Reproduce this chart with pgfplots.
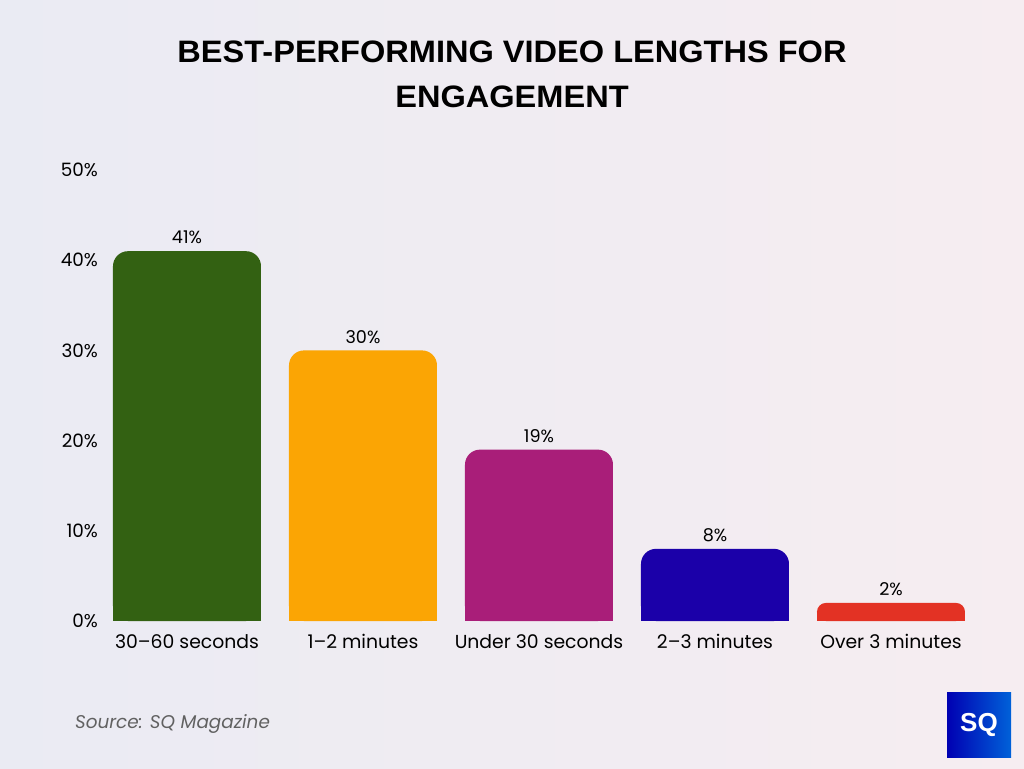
\documentclass[border=0pt]{standalone}
\usepackage{pgfplots}
\pgfplotsset{compat=1.18}
\usepackage{fontspec}
\setmainfont{Poppins}
\newfontfamily\titlefont{Liberation Sans}

\definecolor{cgreen}{HTML}{336112}
\definecolor{corange}{HTML}{FBA504}
\definecolor{cmag}{HTML}{A91E79}
\definecolor{cblue}{HTML}{1B00A9}
\definecolor{cred}{HTML}{E33224}
\definecolor{bgleft}{HTML}{EAEBF3}
\definecolor{bgright}{HTML}{F6EDF1}

\begin{document}
\begin{tikzpicture}
% background (512pt x 384pt = 1024 x 768 px)
\shade[left color=bgleft, right color=bgright] (0,0) rectangle (512pt,384pt);

\node[font=\titlefont\bfseries\fontsize{15.5}{22.5}\selectfont, align=center]
  at (256pt,346.75pt) {\scalebox{1.05}[1]{BEST-PERFORMING VIDEO LENGTHS FOR}\\\scalebox{1.05}[1]{ENGAGEMENT}};

\begin{axis}[
  at={(49.5pt,73.5pt)}, anchor=south west,
  scale only axis, width=440pt, height=225.5pt,
  xmin=-0.5, xmax=4.5, ymin=0, ymax=50,
  ybar, bar width=74pt, bar shift=0pt,
  axis line style={draw=none}, tick style={draw=none},
  ytick={0,10,...,50},
  yticklabel={\pgfmathprintnumber{\tick}\%},
  yticklabel style={xshift=3pt, font=\fontsize{9.2}{10}\selectfont},
  xtick={0,1,2,3,4},
  xticklabels={30--60 seconds, 1--2 minutes, Under 30 seconds, 2--3 minutes, Over 3 minutes},
  xticklabel style={yshift=1pt, font=\fontsize{9.4}{10}\selectfont},
  ticklabel style={text=black},
  /pgf/number format/assume math mode=true,
  nodes near coords={\pgfmathprintnumber{\pgfplotspointmeta}\%},
  every node near coord/.append style={font=\fontsize{8.8}{10}\selectfont, text=black},
  clip=false,
]
\addplot[fill=cgreen, draw=none, rounded corners=7.5pt] coordinates {(0,41)};
\addplot[fill=corange, draw=none, rounded corners=7.5pt] coordinates {(1,30)};
\addplot[fill=cmag, draw=none, rounded corners=7.5pt] coordinates {(2,19)};
\addplot[fill=cblue, draw=none, rounded corners=7.5pt] coordinates {(3,8)};
\addplot[fill=cred, draw=none, rounded corners=4.4pt] coordinates {(4,2)};
% square off the bottom corners
\addplot[fill=cgreen, draw=none, nodes near coords=] coordinates {(0,20)};
\addplot[fill=corange, draw=none, nodes near coords=] coordinates {(1,15)};
\addplot[fill=cmag, draw=none, nodes near coords=] coordinates {(2,9)};
\addplot[fill=cblue, draw=none, nodes near coords=] coordinates {(3,4)};
\addplot[fill=cred, draw=none, nodes near coords=] coordinates {(4,1)};
\end{axis}

\node[anchor=west, font=\itshape\fontsize{9.2}{11}\selectfont, text=black!62] at (34pt,22pt) {Source: SQ Magazine};

% logo
\shade[left color=blue!70!black, right color=blue!55!cyan!85!black] (473.5pt,5.5pt) rectangle (505.5pt,38pt);
\node[font=\titlefont\bfseries\fontsize{13}{13}\selectfont, text=white] at (489.5pt,21.75pt) {SQ};
\end{tikzpicture}
\end{document}
